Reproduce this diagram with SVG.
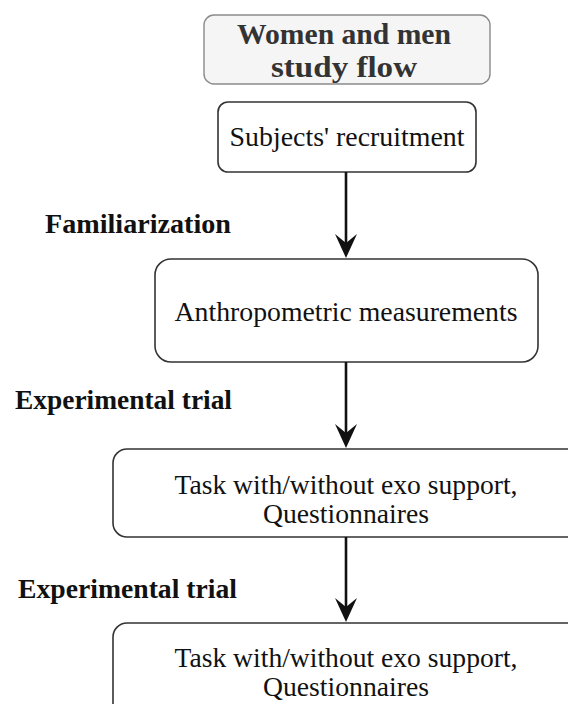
<svg xmlns="http://www.w3.org/2000/svg" width="568" height="704" viewBox="0 0 568 704">
<defs>
<style>
.box{fill:#ffffff;stroke:#333333;stroke-width:1.6}
.title{fill:#f5f5f5;stroke:#8a8a8a;stroke-width:1.4}
.t{font-family:"Liberation Serif","Times New Roman",serif;font-size:27px;fill:#111;text-anchor:middle}
.tb{font-family:"Liberation Serif","Times New Roman",serif;font-size:29px;font-weight:bold;fill:#333;text-anchor:middle}
.lbl{font-family:"Liberation Serif","Times New Roman",serif;font-size:27px;font-weight:bold;fill:#111}
.edge{stroke:#111;stroke-width:2.6;fill:none}
</style>
</defs>
<rect width="568" height="704" fill="#ffffff"/>
<g id="title">
<rect class="title" x="204" y="15" width="286" height="69" rx="10"/>
<text class="tb" x="344" y="44" textLength="214" lengthAdjust="spacingAndGlyphs">Women and men</text>
<text class="tb" x="344" y="77" textLength="146" lengthAdjust="spacingAndGlyphs">study flow</text>
</g>
<g id="recruit">
<rect class="box" x="218" y="102" width="258" height="70" rx="10"/>
<text class="t" x="347" y="146" textLength="235" lengthAdjust="spacingAndGlyphs">Subjects' recruitment</text>
</g>
<g id="anthro">
<rect class="box" x="155" y="259" width="383" height="103" rx="16"/>
<text class="t" x="346" y="321" textLength="343" lengthAdjust="spacingAndGlyphs">Anthropometric measurements</text>
</g>
<g id="task1">
<rect class="box" x="113" y="449" width="480" height="88" rx="14"/>
<text class="t" x="346" y="494" textLength="343" lengthAdjust="spacingAndGlyphs">Task with/without exo support,</text>
<text class="t" x="346" y="523" textLength="166" lengthAdjust="spacingAndGlyphs">Questionnaires</text>
</g>
<g id="task2">
<rect class="box" x="113" y="623" width="480" height="110" rx="14"/>
<text class="t" x="346" y="667" textLength="343" lengthAdjust="spacingAndGlyphs">Task with/without exo support,</text>
<text class="t" x="346" y="696" textLength="166" lengthAdjust="spacingAndGlyphs">Questionnaires</text>
</g>
<g id="labels">
<text class="lbl" x="45" y="233" textLength="186" lengthAdjust="spacingAndGlyphs">Familiarization</text>
<text class="lbl" x="15" y="409" textLength="217" lengthAdjust="spacingAndGlyphs">Experimental trial</text>
<text class="lbl" x="18" y="598" textLength="219" lengthAdjust="spacingAndGlyphs">Experimental trial</text>
</g>
<g id="connectors">
<line class="edge" x1="346" y1="172" x2="346" y2="246"/>
<path d="M335,234 L346,258 L357,234 L346,243 Z" fill="#111"/>
<line class="edge" x1="346" y1="362" x2="346" y2="436"/>
<path d="M335,424 L346,448 L357,424 L346,433 Z" fill="#111"/>
<line class="edge" x1="346" y1="537" x2="346" y2="610"/>
<path d="M335,598 L346,622 L357,598 L346,607 Z" fill="#111"/>
</g>
</svg>
